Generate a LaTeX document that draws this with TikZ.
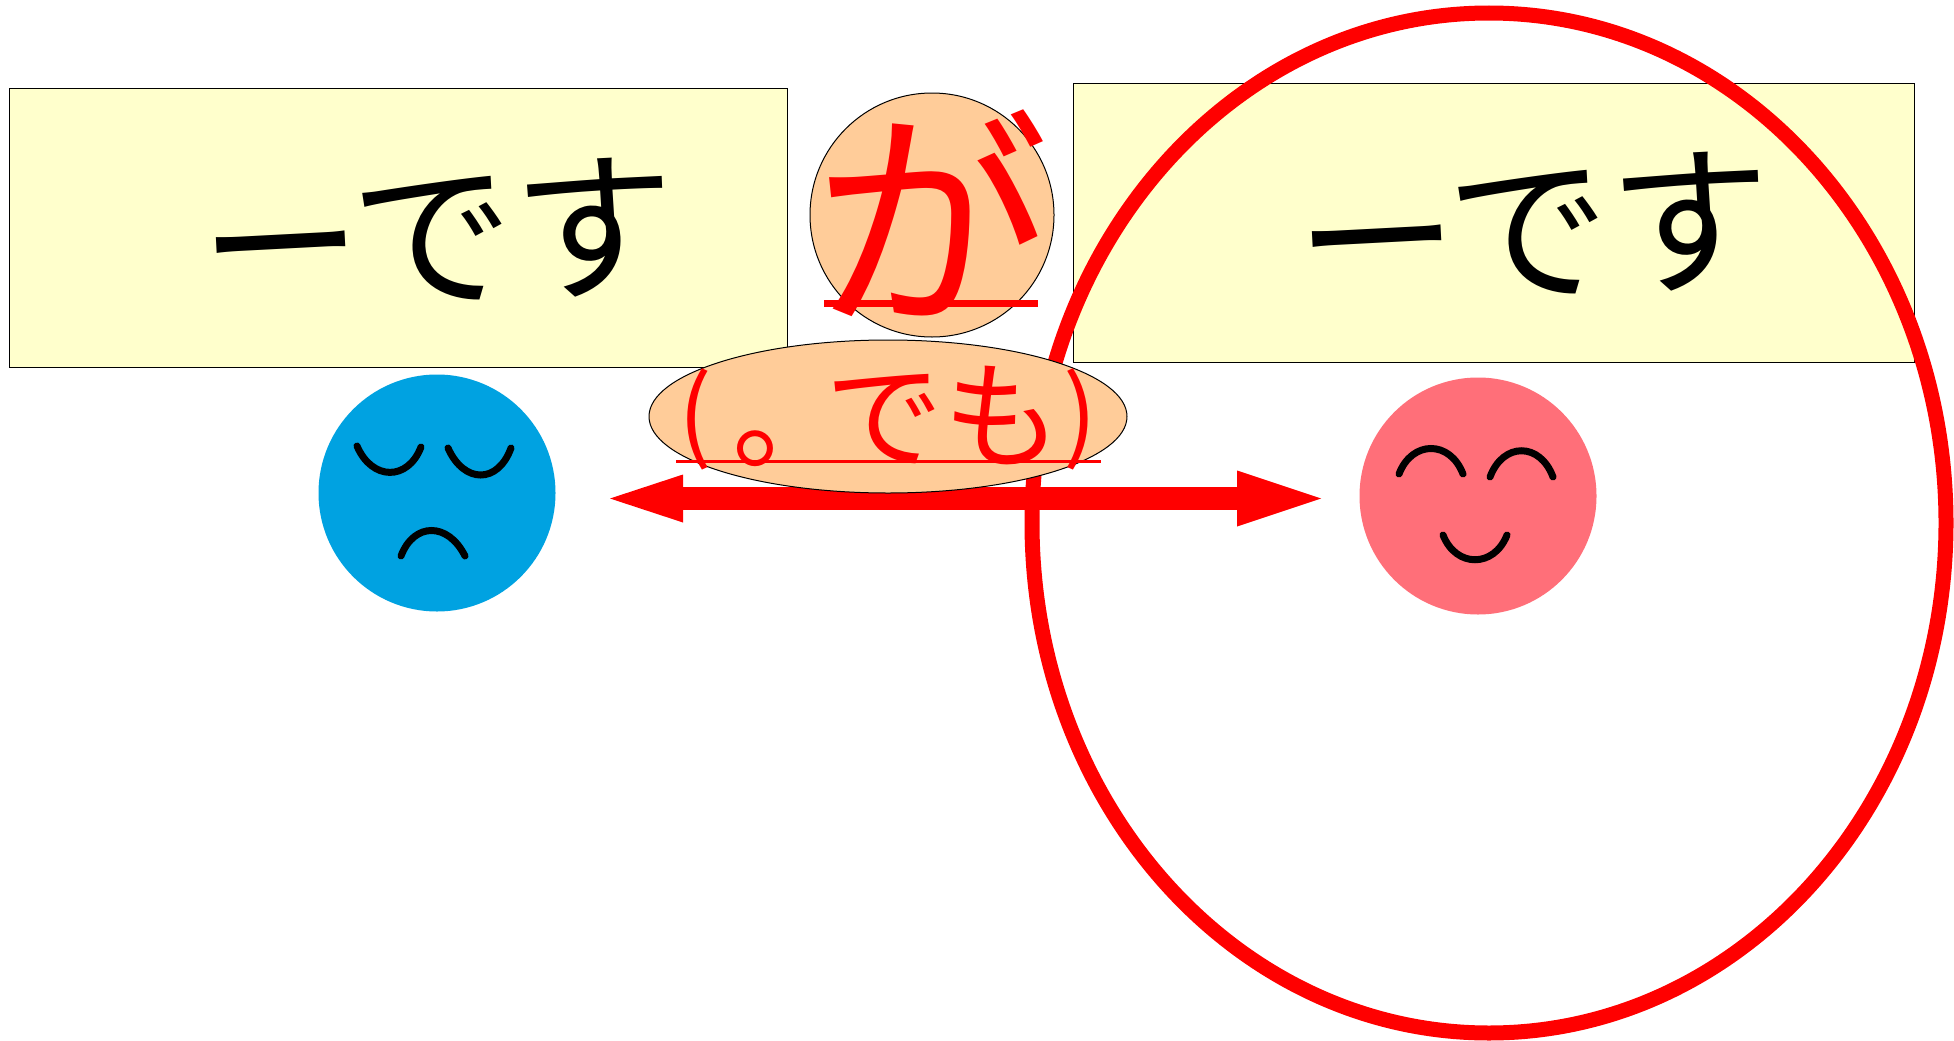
\documentclass[tikz,border=0pt]{standalone}
\usepackage{fontspec}
\usetikzlibrary{arrows.meta,shapes.geometric}
\newfontfamily\jp{Noto Sans CJK JP}
\definecolor{boxyellow}{HTML}{FFFFCC}
\definecolor{peach}{HTML}{FFCC99}
\definecolor{skyface}{HTML}{00A2E1}
\definecolor{pinkface}{HTML}{FF6F79}
\tikzset{
  notebox/.style={draw=black,line width=0.9pt,fill=boxyellow,anchor=north west,inner sep=0pt},
  peachshape/.style={draw=black,line width=1pt,fill=peach,inner sep=0pt},
  face/.style={circle,inner sep=0pt,minimum size=237pt},
  feature/.style={draw=black,line width=7pt,line cap=round},
  redline/.style={draw=red,line cap=butt},
  biglabel/.style={font=\jp\fontsize{162}{162}\selectfont,rotate=3,inner sep=0pt},
}
\begin{document}
\begin{tikzpicture}[x=1pt,y=-1pt]
\useasboundingbox (0,0) rectangle (1954,1041);
\node[notebox,minimum width=778pt,minimum height=279pt] (leftbox) at (9,88) {};
\node[notebox,minimum width=841pt,minimum height=279pt] (rightbox) at (1073,82.5) {};
\node[biglabel] (lefttext) at (438,236) {ーです};
\node[biglabel] (righttext) at (1534,230) {ーです};
\node[ellipse,draw=red,line width=15pt,minimum width=914pt,minimum height=1020pt,inner sep=0pt] (bigring) at (1489,523) {};
\coordinate (arrowL) at (610,498.5);
\coordinate (arrowR) at (1321,498.5);
\draw[red,line width=23pt,{Triangle[length=73pt,width=48pt,line width=0pt]}-{Triangle[length=84pt,width=56pt,line width=0pt]}] (arrowL) -- (arrowR);
\node[circle,peachshape,minimum size=244pt] (gacircle) at (932,215) {};
\node[ellipse,peachshape,minimum width=478pt,minimum height=153pt] (demoellipse) at (888,416.5) {};
\node[font=\jp\fontsize{235}{235}\selectfont,text=red,inner sep=0pt] (gatext) at (932,213) {が};
\coordinate (gaL) at (824,303);
\coordinate (gaR) at (1038,303);
\draw[redline,line width=7pt] (gaL) -- (gaR);
\node[font=\jp\fontsize{118}{118}\selectfont,text=red,inner sep=0pt] (demotext) at (888,418) {\raisebox{9pt}{\fontsize{100}{100}\selectfont(}\hspace{20pt}。\hspace{-25pt}でも\hspace{2pt}\raisebox{9pt}{\fontsize{100}{100}\selectfont)}};
\coordinate (deL) at (676,461);
\coordinate (deR) at (1101,461);
\draw[redline,line width=3pt] (deL) -- (deR);
\node[face,fill=skyface] (sadface) at (437,493) {};
\draw[feature] (357,446) .. controls (372,481) and (408,481) .. (421,447);
\draw[feature] (448,448) .. controls (464,484) and (498,484) .. (511,448);
\draw[feature] (401,556) .. controls (414,522) and (448,522) .. (465,556);
\node[face,fill=pinkface] (happyface) at (1478,496) {};
\draw[feature] (1399,474) .. controls (1412,440) and (1450,440) .. (1463,474);
\draw[feature] (1490,477) .. controls (1503,442) and (1540,442) .. (1553,477);
\draw[feature] (1443,535) .. controls (1456,568) and (1494,568) .. (1507,535);
\end{tikzpicture}
\end{document}
